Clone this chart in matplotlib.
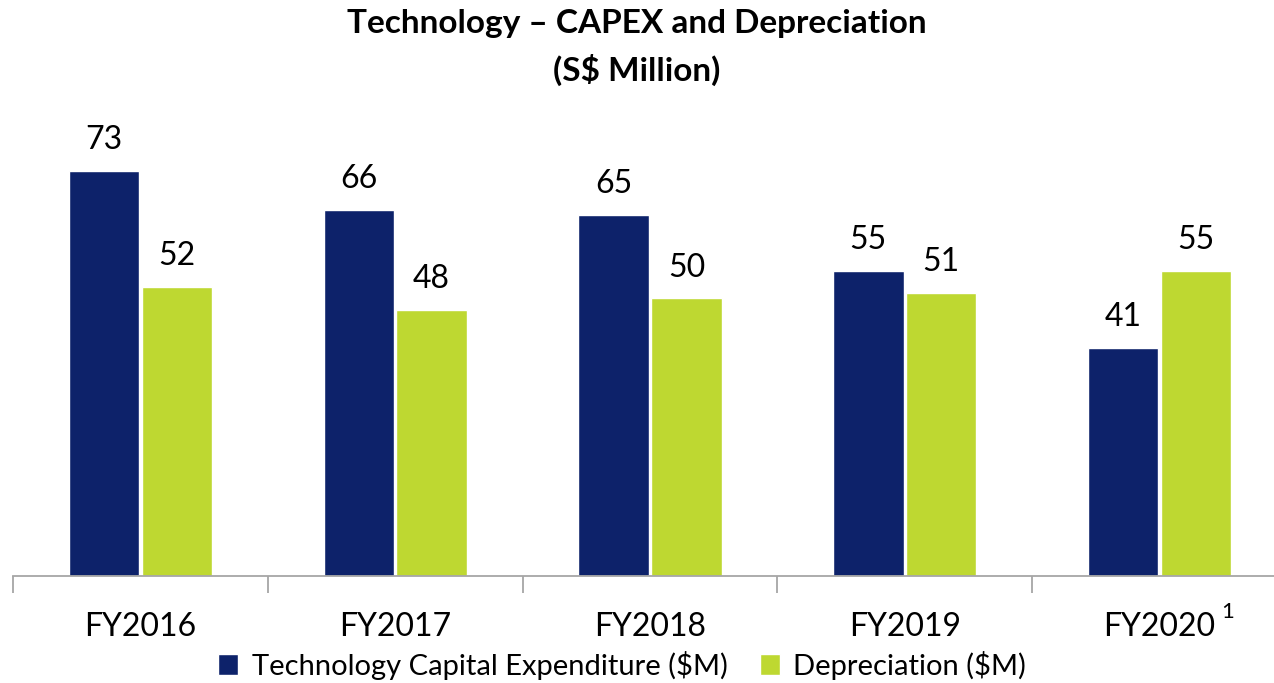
import matplotlib
matplotlib.use("Agg")
import matplotlib.pyplot as plt
import numpy as np

years = ["FY2016", "FY2017", "FY2018", "FY2019", "FY2020"]
capex = [73, 66, 65, 55, 41]
depreciation = [52, 48, 50, 51, 55]
series_names = ["Technology Capital Expenditure ($M)", "Depreciation ($M)"]
title = "Technology – CAPEX and Depreciation\n(S$ Million)"

plt.rcParams["font.family"] = ["Lato", "DejaVu Sans"]

W, H = 1274, 683
fig = plt.figure(figsize=(W / 100, H / 100), dpi=100)
# axis spans from x=13 px to beyond the right edge; baseline at y=576 px
left, right = 13, 1287
base, top = 576, 132
ax = fig.add_axes([left / W, (H - base) / H, (right - left) / W, (base - top) / H])

x = np.arange(len(years))
bw = 0.276
off = 0.143
navy = "#0D226A"
lime = "#BED831"
b1 = ax.bar(x - off, capex, bw, color=navy, edgecolor="white", linewidth=1.0, label=series_names[0])
b2 = ax.bar(x + off, depreciation, bw, color=lime, edgecolor="white", linewidth=1.0, label=series_names[1])

for bars, vals in ((b1, capex), (b2, depreciation)):
    for r, v in zip(bars, vals):
        ax.annotate(f"{v}", (r.get_x() + r.get_width() / 2, v), xytext=(0, 11.5),
                    textcoords="offset points", ha="center", va="bottom", fontsize=23)

ax.set_xlim(-0.5, len(years) - 0.5)
ax.set_ylim(0, 80)
ax.set_yticks([])
for s in ("top", "right", "left"):
    ax.spines[s].set_visible(False)
ax.spines["bottom"].set_color("#A6A6A6")
ax.spines["bottom"].set_linewidth(1.3)

ax.set_xticks(np.arange(len(years) + 1) - 0.5, minor=False)
ax.set_xticklabels([])
ax.tick_params(axis="x", which="major", length=12, width=1.3, color="#A6A6A6")
ax.set_xticks(x, minor=True)
ax.set_xticklabels(years, minor=True, fontsize=23)
ax.tick_params(axis="x", which="minor", length=0, pad=26)

# footnote marker on the last category
ax.annotate("1", (x[-1], 0), xytext=(49, -26), textcoords="offset points",
            ha="center", va="center", fontsize=16)

fig.suptitle(title, fontsize=24, fontweight="bold", y=0.987, linespacing=1.6)

leg = fig.legend(handles=[b1, b2], loc="center", bbox_to_anchor=(622 / W, 1 - 665 / H),
                 ncol=2, frameon=False, fontsize=21, handlelength=0.7, handleheight=0.7,
                 handletextpad=0.45, columnspacing=1.1)

fig.savefig("out.png", dpi=100)
